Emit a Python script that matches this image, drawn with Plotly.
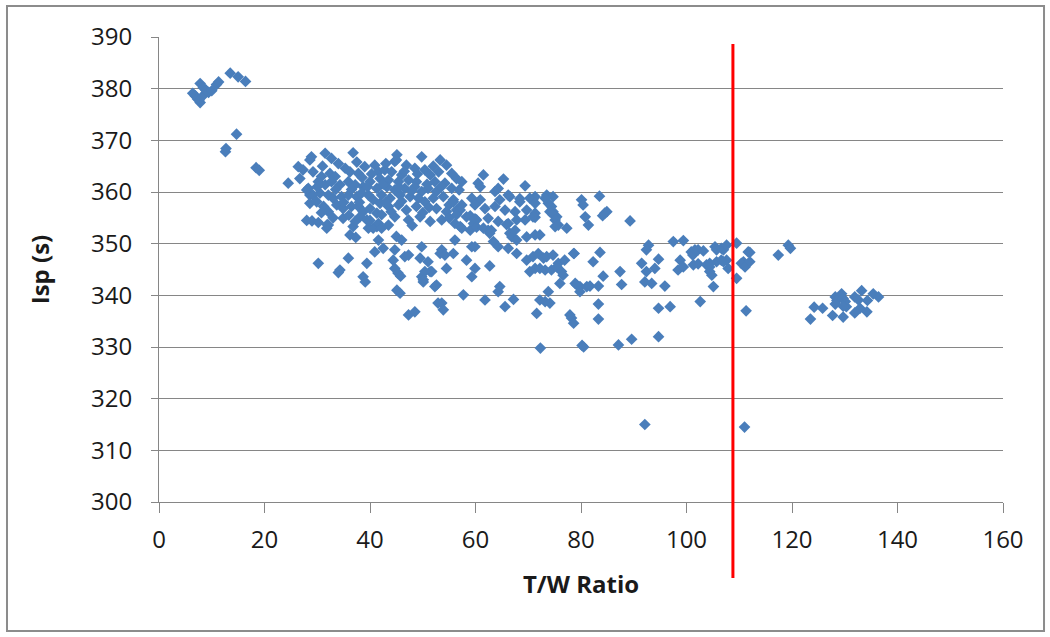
import plotly.graph_objects as go

# Engine data: (T/W ratio, Isp in s), grouped by region of the chart
early_pts = [(6.4, 379.1), (6.9, 378.6), (7.3, 378.0), (7.8, 377.3), (7.6, 377.8), (8.3, 378.6),
             (7.8, 381.0), (8.4, 380.2), (8.9, 379.7), (9.4, 379.3), (10.0, 379.6), (10.9, 380.8),
             (11.3, 381.3), (13.5, 383.0), (15.0, 382.3), (16.4, 381.4), (14.7, 371.2), (12.6, 367.8),
             (12.7, 368.4), (18.4, 364.7), (19.0, 364.2)]

main_pts = [(24.5, 361.7), (26.4, 364.9), (27.3, 364.3), (26.7, 362.6), (28.9, 366.8), (28.6, 366.2),
            (29.2, 363.9), (31.5, 367.5), (32.7, 366.5), (36.8, 367.6), (45.1, 367.2), (44.7, 365.9),
            (49.8, 366.8), (28.0, 360.4), (28.6, 359.4), (30.8, 363.0), (32.4, 363.6), (33.4, 363.0),
            (35.3, 364.6), (36.2, 363.9), (37.8, 363.6), (39.0, 364.9), (40.9, 365.2), (41.6, 363.9),
            (30.2, 362.0), (31.5, 361.4), (32.7, 362.0), (34.3, 361.4), (35.9, 362.0), (37.2, 361.4),
            (38.7, 361.0), (40.0, 362.0), (41.3, 360.7), (28.3, 360.7), (29.2, 359.4), (30.5, 359.8),
            (32.1, 359.4), (33.0, 358.8), (34.6, 359.1), (35.9, 359.4), (37.5, 359.1), (38.4, 359.8),
            (39.7, 359.4), (40.6, 358.5), (28.6, 357.8), (29.9, 358.1), (31.2, 357.2), (32.1, 356.2),
            (33.7, 357.5), (34.9, 356.8), (36.5, 357.2), (37.8, 357.2), (38.7, 356.2), (40.0, 356.8),
            (41.3, 355.9), (34.9, 354.9), (38.1, 355.2), (39.4, 354.6), (28.0, 354.5), (29.0, 354.4),
            (30.2, 354.1), (32.1, 353.6), (36.8, 353.3), (41.3, 353.3), (31.8, 353.0), (31.9, 353.7),
            (37.2, 354.3), (39.7, 353.0), (40.6, 353.0), (45.0, 366.2), (53.3, 366.2), (54.5, 365.2),
            (46.9, 365.2), (48.5, 364.6), (42.8, 364.3), (44.1, 363.9), (46.0, 363.3), (50.4, 364.3),
            (51.4, 363.3), (53.0, 363.9), (55.5, 363.6), (56.4, 362.6), (41.9, 362.6), (43.5, 362.3),
            (45.4, 362.0), (47.3, 362.3), (48.8, 362.0), (52.3, 362.0), (54.2, 361.7), (43.2, 361.0),
            (44.7, 360.4), (46.6, 360.7), (48.5, 361.0), (49.8, 360.1), (51.0, 360.7), (52.6, 360.1),
            (55.5, 360.7), (42.2, 359.4), (43.8, 358.8), (45.7, 359.4), (47.6, 359.1), (49.2, 358.8),
            (50.4, 358.1), (52.0, 358.8), (53.9, 359.1), (55.8, 358.5), (41.9, 357.8), (43.5, 357.2),
            (45.4, 357.5), (46.9, 356.5), (48.8, 357.2), (52.6, 356.8), (54.5, 356.2), (56.4, 356.5),
            (42.2, 355.6), (44.7, 355.2), (47.3, 354.6), (49.5, 355.2), (51.4, 354.3), (53.6, 354.6),
            (56.1, 353.9), (43.5, 353.6), (41.6, 353.9), (30.0, 361.0), (33.5, 360.5), (36.5, 360.5),
            (39.5, 361.0), (42.5, 361.5), (45.5, 361.0), (47.9, 360.2), (50.8, 361.5), (53.5, 361.0),
            (31.0, 365.0), (34.0, 365.5), (37.5, 365.8), (38.5, 362.8), (40.3, 363.5), (43.0, 365.5),
            (46.5, 364.0), (49.0, 363.5), (52.0, 365.0), (35.0, 358.0), (38.0, 358.0), (43.0, 358.0),
            (46.0, 358.2), (51.2, 357.0), (55.0, 357.5), (30.8, 356.0), (36.0, 355.5), (44.0, 356.2),
            (50.0, 356.0), (33.0, 355.0), (40.0, 354.5), (48.0, 353.5), (55.0, 355.0)]

mid_pts = [(61.5, 363.3), (65.3, 362.5), (69.4, 361.2), (60.5, 361.7), (60.9, 361.0), (57.4, 362.0),
           (56.9, 360.4), (63.7, 360.1), (64.3, 360.7), (64.6, 358.5), (66.5, 359.1), (68.4, 358.1),
           (70.9, 358.5), (71.3, 359.1), (59.3, 358.8), (60.9, 358.5), (59.9, 357.5), (57.4, 357.5),
           (61.8, 356.8), (63.7, 357.2), (65.6, 356.5), (67.5, 356.2), (69.7, 356.5), (71.3, 355.9),
           (58.3, 355.2), (60.2, 354.6), (62.4, 354.9), (64.3, 354.3), (66.2, 353.9), (69.4, 354.6),
           (57.1, 353.3), (59.0, 352.6), (62.4, 352.6), (66.2, 359.4), (68.4, 358.7), (70.3, 358.8),
           (73.5, 359.4), (74.7, 359.1), (73.8, 357.8), (74.4, 357.2), (74.7, 356.2), (75.4, 355.2),
           (75.1, 353.3), (77.3, 353.0), (80.1, 358.5), (80.4, 357.5), (80.8, 355.2), (81.4, 353.6),
           (71.3, 355.1), (67.8, 354.6), (65.9, 353.7), (66.5, 352.0), (66.9, 351.3), (67.8, 350.7),
           (67.5, 352.6), (69.7, 351.3), (71.3, 351.7), (72.2, 351.7), (59.0, 355.4), (59.6, 353.9),
           (59.9, 354.8), (60.2, 353.2), (57.1, 356.5), (57.4, 353.0), (55.8, 358.1), (56.4, 355.6),
           (61.5, 353.0), (63.0, 352.6), (62.7, 352.0), (63.4, 350.4), (64.3, 349.4), (66.2, 349.1),
           (67.8, 348.1), (59.3, 349.4), (59.9, 349.4), (56.1, 350.7), (55.8, 348.1), (71.3, 357.8),
           (70.9, 355.2), (73.2, 358.8), (74.1, 356.2), (74.7, 355.6), (75.1, 354.6), (75.7, 353.6)]

low_pts = [(36.2, 351.7), (37.3, 351.2), (41.6, 350.7), (42.2, 353.0), (42.5, 349.1), (40.9, 348.4),
           (45.0, 351.4), (46.0, 350.7), (44.7, 348.8), (46.6, 347.5), (47.3, 347.8), (30.2, 346.2),
           (35.9, 347.2), (34.3, 344.9), (34.0, 344.4), (39.4, 346.2), (38.7, 343.6), (39.1, 342.6),
           (44.7, 345.2), (45.3, 344.3), (45.8, 343.7), (44.4, 346.8), (49.5, 347.2), (49.8, 343.6),
           (50.1, 342.6), (51.0, 346.5), (51.4, 344.6), (52.6, 342.0), (45.1, 341.0), (45.7, 340.4),
           (47.3, 336.2), (48.5, 336.8), (53.6, 348.8), (53.3, 348.1), (54.2, 347.8), (58.3, 346.8),
           (59.9, 345.2), (59.3, 343.6), (54.5, 345.2), (51.7, 344.6), (52.3, 341.7), (57.7, 340.1),
           (53.6, 338.5), (53.9, 337.2), (61.8, 339.1), (62.7, 345.7), (64.6, 341.7), (64.3, 340.7),
           (65.6, 337.8), (67.2, 339.2), (69.7, 346.8), (70.9, 347.5), (71.9, 348.1), (72.9, 347.2),
           (73.5, 347.5), (74.7, 347.8), (75.7, 346.2), (76.9, 346.8), (70.3, 344.6), (71.3, 345.2),
           (72.2, 345.2), (73.2, 344.9), (74.4, 344.9), (75.4, 345.5), (76.3, 344.6), (76.6, 343.9),
           (76.0, 342.3), (78.6, 348.1), (78.9, 342.3), (79.8, 341.7), (81.1, 341.7), (73.8, 340.7),
           (72.2, 339.1), (73.2, 338.8), (74.1, 338.5), (71.6, 336.5), (77.9, 336.2), (78.2, 335.6),
           (72.3, 329.8), (80.2, 330.3), (80.5, 330.0), (49.8, 349.4), (50.4, 344.6), (50.1, 343.0),
           (52.9, 338.5)]

right_pts = [(83.5, 359.2), (84.5, 355.9), (84.9, 356.2), (84.1, 355.4), (89.3, 354.4), (92.8, 349.7),
             (92.4, 348.8), (97.5, 350.4), (99.4, 350.6), (83.6, 348.3), (82.3, 346.5), (91.5, 346.2),
             (92.4, 344.6), (94.0, 345.2), (94.7, 347.0), (87.4, 344.6), (84.2, 343.7), (92.1, 342.6),
             (93.4, 342.3), (95.9, 341.8), (87.7, 342.1), (79.2, 342.0), (79.8, 340.7), (81.7, 341.8),
             (83.3, 341.8), (98.8, 346.8), (98.4, 344.9), (99.4, 345.5), (100.9, 348.4), (101.2, 347.8),
             (101.6, 348.8), (102.2, 348.8), (103.2, 348.6), (101.3, 345.9), (102.2, 346.1), (103.8, 345.9),
             (104.4, 345.5), (104.4, 344.6), (104.8, 343.9), (105.1, 341.7), (105.4, 349.4), (105.7, 348.8),
             (106.6, 349.1), (107.0, 348.8), (107.6, 349.7), (105.7, 346.5), (106.6, 346.8), (107.6, 346.8),
             (107.9, 345.2), (109.5, 350.1), (109.5, 343.3), (102.6, 338.8), (94.7, 337.5), (96.9, 337.8),
             (83.3, 338.3), (83.3, 335.4), (78.6, 334.6), (87.1, 330.4), (89.6, 331.5), (94.7, 332.0),
             (111.7, 348.4), (112.0, 348.3), (110.8, 346.5), (110.4, 346.2), (111.1, 345.5), (112.0, 346.5),
             (111.3, 337.0), (117.4, 347.8), (119.3, 349.7), (119.7, 349.1), (104.4, 346.2), (107.0, 346.5),
             (92.1, 315.0), (111.0, 314.5), (78.7, 348.1)]

far_pts = [(123.5, 335.4), (124.2, 337.7), (125.8, 337.5), (127.7, 336.1), (129.7, 335.8), (128.2, 339.7),
           (128.5, 339.0), (129.4, 340.3), (129.7, 339.4), (130.1, 338.8), (128.2, 338.3), (130.3, 337.8),
           (129.7, 337.9), (131.9, 339.7), (132.6, 339.1), (133.2, 340.9), (131.9, 336.6), (132.9, 337.5),
           (134.2, 336.8), (134.3, 339.0), (135.4, 340.3), (136.4, 339.7)]

threshold_tw = 108.8          # red vertical marker line
x_ticks = [0, 20, 40, 60, 80, 100, 120, 140, 160]
y_ticks = [300, 310, 320, 330, 340, 350, 360, 370, 380, 390]

all_pts = early_pts + main_pts + mid_pts + low_pts + right_pts + far_pts
tw = [p[0] for p in all_pts]
isp = [p[1] for p in all_pts]

FONT = "Open Sans"
GRID = "#868686"

fig = go.Figure()
fig.add_trace(go.Scatter(
    x=tw, y=isp, mode="markers",
    marker=dict(symbol="diamond", size=9, color="#4A7EBB", line=dict(width=0)),
    showlegend=False, hoverinfo="x+y"))

x_range = [x_ticks[0], x_ticks[-1]]
y_range = [y_ticks[0], y_ticks[-1]]

fig.update_layout(
    width=1050, height=637,
    margin=dict(l=159, r=47, t=37, b=135),
    paper_bgcolor="white", plot_bgcolor="white",
    font=dict(family=FONT, color="#1a1a1a"),
    xaxis=dict(range=x_range, tickvals=x_ticks, showgrid=False, zeroline=False,
               showline=True, linecolor=GRID, linewidth=1,
               ticks="outside", ticklen=10, tickcolor=GRID, tickwidth=1,
               ticklabelstandoff=6,
               tickfont=dict(size=24, family=FONT, color="#1a1a1a"),
               title=dict(text="<b>T/W Ratio</b>", font=dict(size=24, family=FONT, color="#1a1a1a"),
                          standoff=22)),
    yaxis=dict(range=y_range, tickvals=y_ticks, showgrid=True, gridcolor=GRID, gridwidth=1,
               zeroline=False, showline=True, linecolor=GRID, linewidth=1,
               ticks="outside", ticklen=7, tickcolor=GRID, tickwidth=1,
               ticklabelstandoff=14,
               tickfont=dict(size=24, family=FONT, color="#1a1a1a"),
               title=dict(text="<b>Isp (s)</b>", font=dict(size=24, family=FONT, color="#1a1a1a"),
                          standoff=34)),
)

# outer chart border
fig.add_shape(type="rect", xref="paper", yref="paper",
              x0=-0.1801, x1=1.0486, y0=-0.2774, y1=1.0667,
              line=dict(color="#8C8C8C", width=2), fillcolor="rgba(0,0,0,0)", layer="below")

# red vertical threshold line (extends past the plot bottom)
fig.add_shape(type="line", xref="paper", yref="paper",
              x0=threshold_tw / x_range[1], x1=threshold_tw / x_range[1],
              y0=-0.1634, y1=0.985,
              line=dict(color="#FF0000", width=3), layer="above")

fig.write_html("out.html")
